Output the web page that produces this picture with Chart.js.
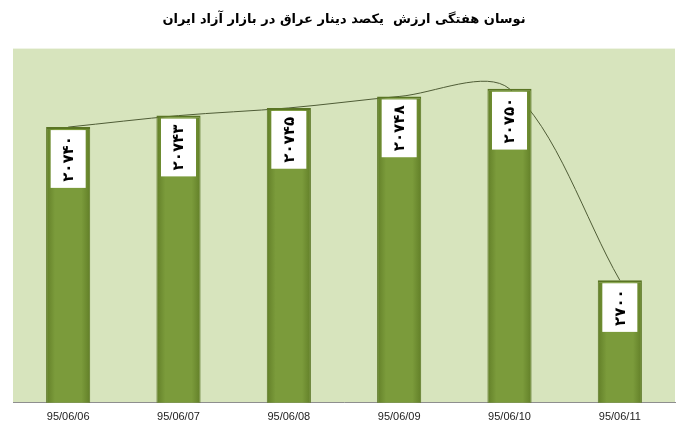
<!DOCTYPE html>
<html>
<head>
<meta charset="utf-8">
<script src="https://cdn.jsdelivr.net/npm/chart.js@4.4.1/dist/chart.umd.min.js"></script>
<style>
  html, body { margin: 0; padding: 0; background: #fff; }
  #wrap { width: 690px; height: 439px; }
</style>
</head>
<body>
<div id="wrap"><canvas id="grafico"></canvas></div>
<script>
const titulo = "نوسان هفتگی ارزش  یکصد دینار عراق در بازار آزاد ایران";
const datas = ["95/06/06", "95/06/07", "95/06/08", "95/06/09", "95/06/10", "95/06/11"];
const valores = [20740, 20743, 20745, 20748, 20750, 20700];
const rotulos = ["۲۰۷۴۰", "۲۰۷۴۳", "۲۰۷۴۵", "۲۰۷۴۸", "۲۰۷۵۰", "۲۷۰۰"];

// fundo verde claro da área do gráfico
const fundoPlugin = {
  id: "fundo",
  beforeDraw(chart) {
    const { ctx, chartArea: a } = chart;
    ctx.save();
    ctx.fillStyle = "#d7e4bd";
    ctx.fillRect(a.left, a.top, a.right - a.left, a.bottom - a.top);
    ctx.restore();
  },
};

// caixas brancas com o valor girado dentro de cada barra
const rotuloPlugin = {
  id: "rotulos",
  afterDatasetsDraw(chart) {
    const meta = chart.getDatasetMeta(0);
    const ctx = chart.ctx;
    ctx.save();
    ctx.font = "bold 15px 'DejaVu Sans'";
    meta.data.forEach((bar, i) => {
      const txt = rotulos[i];
      const w = ctx.measureText(txt).width;
      const boxW = 35;
      const boxH = w + 12;
      const x = bar.x - boxW / 2;
      const y = bar.y + 3;
      ctx.fillStyle = "#ffffff";
      ctx.fillRect(x, y, boxW, boxH);
      ctx.save();
      ctx.translate(bar.x, y + boxH / 2);
      ctx.rotate(-Math.PI / 2);
      ctx.fillStyle = "#000";
      ctx.textAlign = "center";
      ctx.textBaseline = "middle";
      ctx.fillText(txt, 0, 1);
      ctx.restore();
    });
    ctx.restore();
  },
};

function gradienteBarra(context) {
  const chart = context.chart;
  if (!chart.chartArea) return "#7a9a3c";
  const cx = chart.scales.x.getPixelForValue(context.dataIndex);
  const g = chart.ctx.createLinearGradient(cx - 22, 0, cx + 22, 0);
  g.addColorStop(0, "#627f28");
  g.addColorStop(0.2, "#7b9b3b");
  g.addColorStop(0.8, "#7b9b3b");
  g.addColorStop(1, "#627f28");
  return g;
}

new Chart(document.getElementById("grafico"), {
  data: {
    labels: datas,
    datasets: [
      {
        type: "bar",
        data: valores,
        backgroundColor: gradienteBarra,
        borderColor: "#5a7524",
        borderWidth: { top: 2, left: 1, right: 1, bottom: 0 },
        borderSkipped: false,
        barPercentage: 0.4,
        categoryPercentage: 1,
        order: 1,
      },
      {
        type: "line",
        data: valores,
        borderColor: "#4f5c36",
        borderWidth: 1,
        pointRadius: 0,
        tension: 0.32,
        fill: false,
        order: 2,
      },
    ],
  },
  options: {
    responsive: true,
    maintainAspectRatio: false,
    animation: false,
    layout: { padding: { left: 13, right: 15, top: 0, bottom: 7 } },
    plugins: {
      legend: { display: false },
      tooltip: { enabled: false },
      title: {
        display: true,
        text: titulo,
        color: "#000",
        font: { family: "'DejaVu Sans'", size: 13, weight: "bold" },
        padding: { top: 12, bottom: 21 },
      },
    },
    scales: {
      x: {
        grid: { display: false, drawTicks: false },
        border: { display: true, color: "#8e8e8e", width: 1 },
        ticks: {
          color: "#222",
          padding: 8,
          font: { family: "'Liberation Sans'", size: 11 },
        },
      },
      y: {
        display: false,
        min: 20668,
        max: 20760.5,
      },
    },
  },
  plugins: [fundoPlugin, rotuloPlugin],
});
</script>
</body>
</html>
